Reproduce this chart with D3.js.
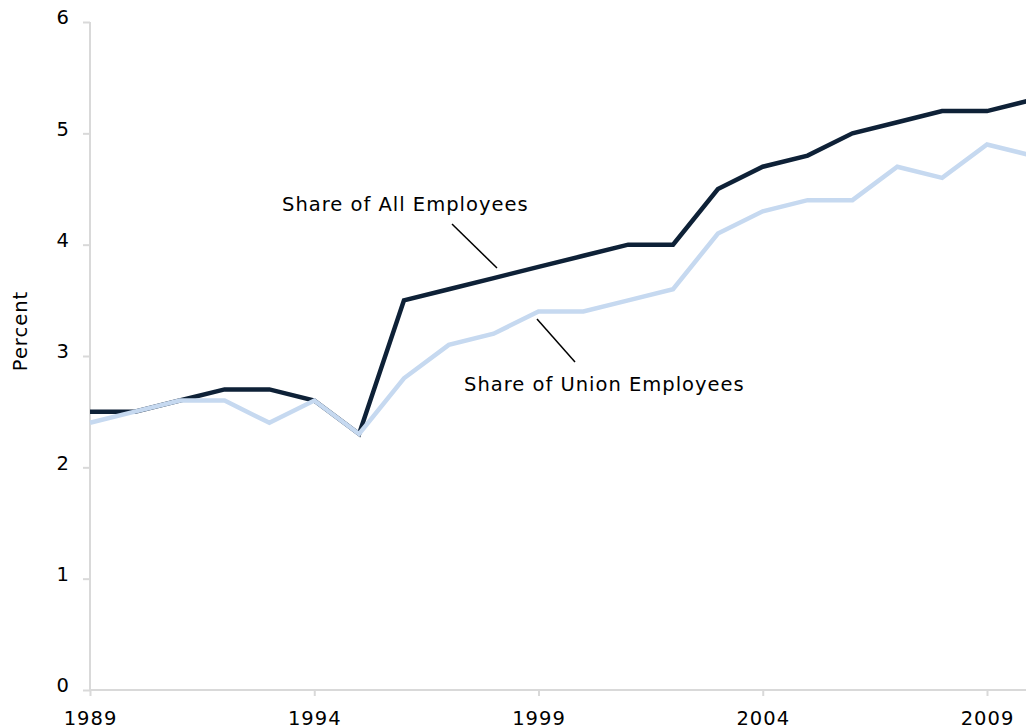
<!DOCTYPE html>
<html>
<head>
<meta charset="utf-8">
<script src="https://cdn.jsdelivr.net/npm/d3@7"></script>
<style>
  body { margin: 0; background: #fff; overflow: hidden; }
  text { font-family: "DejaVu Sans", Verdana, sans-serif; fill: #000; letter-spacing: 1px; }
</style>
</head>
<body>
<script>
// Chart data
var years = [1989, 1990, 1991, 1992, 1993, 1994, 1995, 1996, 1997, 1998, 1999,
             2000, 2001, 2002, 2003, 2004, 2005, 2006, 2007, 2008, 2009, 2010];
var allEmployees = [2.5, 2.5, 2.6, 2.7, 2.7, 2.6, 2.3, 3.5, 3.6, 3.7, 3.8,
                    3.9, 4.0, 4.0, 4.5, 4.7, 4.8, 5.0, 5.1, 5.2, 5.2, 5.3];
var unionEmployees = [2.4, 2.5, 2.6, 2.6, 2.4, 2.6, 2.3, 2.8, 3.1, 3.2, 3.4,
                      3.4, 3.5, 3.6, 4.1, 4.3, 4.4, 4.4, 4.7, 4.6, 4.9, 4.8];
var xTicks = [1989, 1994, 1999, 2004, 2009];
var yTicks = [0, 1, 2, 3, 4, 5, 6];

var svgWidth = 1026;
var svgHeight = 727;
var margin = { top: 22, left: 90, bottom: 37 };
var height = svgHeight - margin.top - margin.bottom;

var svg = d3.select("body")
  .append("svg")
  .attr("width", svgWidth)
  .attr("height", svgHeight);

var chartGroup = svg.append("g")
  .attr("transform", `translate(${margin.left}, ${margin.top})`);

// 5 years ~ 224.5px
var x = d3.scaleLinear().domain([1989, 2009]).range([0, 897]);
var y = d3.scaleLinear().domain([0, 6]).range([height, 0]);

// axes
var xAxis = chartGroup.append("g")
  .attr("transform", `translate(0, ${height})`)
  .call(d3.axisBottom(x).tickValues(xTicks).tickFormat(d3.format("d")).tickSize(6).tickPadding(10));
var yAxis = chartGroup.append("g")
  .call(d3.axisLeft(y).tickValues(yTicks).tickFormat(d3.format("d")).tickSize(7).tickPadding(13));

xAxis.select(".domain").attr("d", `M0,0H${svgWidth}`);
yAxis.select(".domain").attr("d", `M0,${height}V0`);
[xAxis, yAxis].forEach(function(a) {
  a.select(".domain").attr("stroke", "#d9d9d9").attr("stroke-width", 2);
  a.selectAll(".tick line").attr("stroke", "#d9d9d9").attr("stroke-width", 2);
  a.selectAll("text").style("font-size", "19.5px").attr("fill", "#000");
});
xAxis.selectAll("text").attr("dy", "0.95em");
yAxis.selectAll("text").attr("dy", "0.1em");

// y label
svg.append("text")
  .attr("transform", "translate(27, 331) rotate(-90)")
  .attr("text-anchor", "middle")
  .style("font-size", "19.5px")
  .text("Percent");

// lines
var line = d3.line()
  .x((d, i) => x(years[i]))
  .y(d => y(d));

chartGroup.append("path")
  .datum(allEmployees)
  .attr("fill", "none")
  .attr("stroke", "#0e2137")
  .attr("stroke-width", 4.5)
  .attr("stroke-linejoin", "miter")
  .attr("d", line);

chartGroup.append("path")
  .datum(unionEmployees)
  .attr("fill", "none")
  .attr("stroke", "#c6d9f0")
  .attr("stroke-width", 4.5)
  .attr("stroke-linejoin", "miter")
  .attr("d", line);

// annotations
svg.append("text")
  .attr("x", 282).attr("y", 211)
  .style("font-size", "19.5px")
  .text("Share of All Employees");
svg.append("line")
  .attr("x1", 452).attr("y1", 224).attr("x2", 497).attr("y2", 268)
  .attr("stroke", "#000").attr("stroke-width", 1.5);

svg.append("text")
  .attr("x", 464).attr("y", 391)
  .style("font-size", "19.5px")
  .text("Share of Union Employees");
svg.append("line")
  .attr("x1", 537).attr("y1", 319).attr("x2", 575).attr("y2", 362)
  .attr("stroke", "#000").attr("stroke-width", 1.5);
</script>
</body>
</html>
